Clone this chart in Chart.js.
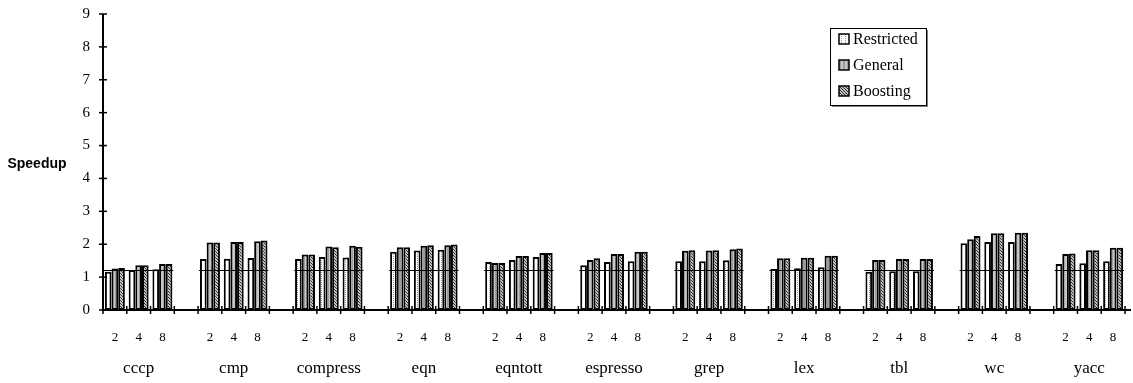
<!DOCTYPE html>
<html>
<head>
<meta charset="utf-8">
<script src="https://cdn.jsdelivr.net/npm/chart.js@4/dist/chart.umd.min.js"></script>
<style>
  html, body { margin: 0; padding: 0; background: #fff; }
  #wrap { width: 1133px; height: 383px; }
</style>
</head>
<body>
<div id="wrap"><canvas id="chart" width="1133" height="383"></canvas></div>
<script>
// speedup per benchmark, three issue widths each (2, 4, 8)
const benchmarks = ['cccp', 'cmp', 'compress', 'eqn', 'eqntott', 'espresso', 'grep', 'lex', 'tbl', 'wc', 'yacc'];
const issueWidths = ['2', '4', '8'];

const restricted = [
  1.16, 1.22, 1.24,   1.55, 1.56, 1.58,   1.55, 1.61, 1.60,   1.77, 1.81, 1.83,
  1.46, 1.52, 1.61,   1.36, 1.46, 1.48,   1.48, 1.48, 1.51,   1.25, 1.27, 1.30,
  1.16, 1.18, 1.18,   2.03, 2.07, 2.07,   1.40, 1.42, 1.48
];
const general = [
  1.26, 1.36, 1.40,   2.05, 2.07, 2.09,   1.69, 1.93, 1.95,   1.91, 1.95, 1.97,
  1.43, 1.64, 1.73,   1.52, 1.70, 1.77,   1.80, 1.81, 1.85,   1.57, 1.59, 1.65,
  1.52, 1.55, 1.55,   2.15, 2.33, 2.35,   1.70, 1.82, 1.89
];
const boosting = [
  1.28, 1.36, 1.40,   2.05, 2.07, 2.11,   1.69, 1.91, 1.92,   1.91, 1.97, 1.99,
  1.43, 1.64, 1.73,   1.57, 1.70, 1.77,   1.82, 1.82, 1.87,   1.57, 1.59, 1.65,
  1.52, 1.55, 1.55,   2.25, 2.33, 2.35,   1.72, 1.82, 1.89
];
// horizontal reference line drawn across every benchmark group
const refSpeedup = 1.21;
const yMin = 0, yMax = 9;

// --- slots: 3 per benchmark plus an empty slot between benchmarks ---
const subLabels = [], nameLabels = [], groupSlots = [];
function spread(arr) {
  const out = [];
  benchmarks.forEach((b, i) => {
    issueWidths.forEach((w, j) => out.push(arr[i * 3 + j]));
    if (i < benchmarks.length - 1) out.push(null);
  });
  return out;
}
benchmarks.forEach((b, i) => {
  groupSlots.push([subLabels.length, subLabels.length + 2]);
  issueWidths.forEach((w, j) => {
    subLabels.push(w);
    nameLabels.push(j === 1 ? b : '');
  });
  if (i < benchmarks.length - 1) { subLabels.push(''); nameLabels.push(''); }
});

// --- fill patterns ---
function makePattern(w, h, draw) {
  const c = document.createElement('canvas');
  c.width = w; c.height = h;
  const g = c.getContext('2d');
  draw(g);
  return g.createPattern(c, 'repeat');
}
const ctx = document.getElementById('chart').getContext('2d');
const patRestricted = makePattern(4, 4, g => {
  g.fillStyle = '#fff'; g.fillRect(0, 0, 4, 4);
  g.fillStyle = '#9a9a9a'; g.fillRect(1, 0, 1, 1); g.fillRect(1, 2, 1, 1);
});
const patGeneral = makePattern(4, 2, g => {
  g.fillStyle = '#9c9c9c'; g.fillRect(0, 0, 4, 2);
  g.fillStyle = '#c6c6c6'; g.fillRect(1, 0, 2, 2);
});
const patBoosting = makePattern(3, 3, g => {
  g.fillStyle = '#c0c0c0'; g.fillRect(0, 0, 3, 3);
  g.fillStyle = '#333';
  g.fillRect(0, 0, 1, 1); g.fillRect(1, 1, 1, 1); g.fillRect(2, 2, 1, 1);
});

const serif = '"Liberation Serif", "Times New Roman", serif';

const marksPlugin = {
  id: 'marks',
  afterDatasetsDraw(chart) {
    const { ctx, chartArea: a, scales: { x, y } } = chart;
    const slot = x.getPixelForValue(1) - x.getPixelForValue(0);
    ctx.save();
    ctx.strokeStyle = '#000';
    // reference line per group
    ctx.lineWidth = 1.2;
    const yr = Math.round(y.getPixelForValue(refSpeedup)) + 0.5;
    groupSlots.forEach(([s, e]) => {
      ctx.beginPath();
      ctx.moveTo(x.getPixelForValue(s) - slot / 2 + 1, yr);
      ctx.lineTo(x.getPixelForValue(e) + slot / 2 - 1, yr);
      ctx.stroke();
    });
    // axes
    ctx.lineWidth = 2;
    ctx.beginPath();
    ctx.moveTo(a.left, y.getPixelForValue(yMax));
    ctx.lineTo(a.left, a.bottom);
    ctx.lineTo(a.right + 6, a.bottom);
    ctx.stroke();
    // crossing tick marks
    ctx.lineWidth = 1.5;
    for (let v = yMin; v <= yMax; v++) {
      const py = y.getPixelForValue(v);
      ctx.beginPath(); ctx.moveTo(a.left - 4, py); ctx.lineTo(a.left + 4, py); ctx.stroke();
    }
    for (let i = 0; i <= subLabels.length; i++) {
      const px = x.getPixelForValue(0) + (i - 0.5) * slot;
      ctx.beginPath(); ctx.moveTo(px, a.bottom - 4); ctx.lineTo(px, a.bottom + 4); ctx.stroke();
    }
    ctx.restore();
  },
  afterDraw(chart) {
    const { ctx, chartArea: a } = chart;
    ctx.save();
    // y axis title, horizontal
    ctx.fillStyle = '#000';
    ctx.font = 'bold 14px "Liberation Sans", Arial, sans-serif';
    ctx.textAlign = 'center';
    ctx.textBaseline = 'middle';
    ctx.fillText('Speedup', 37, (a.top + a.bottom) / 2 + 2);
    // legend box
    const lx = 830, ly = 28, lw = 96, lh = 77;
    ctx.fillStyle = '#808080';
    ctx.fillRect(lx + 2, ly + 2, lw, lh);
    ctx.fillStyle = '#fff';
    ctx.fillRect(lx, ly, lw, lh);
    ctx.strokeStyle = '#000';
    ctx.lineWidth = 1;
    ctx.strokeRect(lx + 0.5, ly + 0.5, lw, lh);
    ctx.font = '16px ' + serif;
    ctx.textAlign = 'left';
    chart.data.datasets.forEach((ds, i) => {
      const cy = ly + 11 + i * 26;
      ctx.fillStyle = ds.backgroundColor;
      ctx.fillRect(lx + 9, cy - 5, 10, 10);
      ctx.strokeStyle = '#000';
      ctx.lineWidth = 1.5;
      ctx.strokeRect(lx + 9, cy - 5, 10, 10);
      ctx.fillStyle = '#000';
      ctx.fillText(ds.label, lx + 23, cy + 1);
    });
    ctx.restore();
  }
};

const barStyle = { borderColor: '#000', borderWidth: 2, borderSkipped: false, barPercentage: 1, categoryPercentage: 0.84 };

function fixX(h) {
  return s => { s.height = h; s.paddingLeft = 0; s.paddingRight = 0; };
}

new Chart(ctx, {
  type: 'bar',
  data: {
    labels: subLabels,
    datasets: [
      { label: 'Restricted', data: spread(restricted), backgroundColor: patRestricted, ...barStyle },
      { label: 'General', data: spread(general), backgroundColor: patGeneral, ...barStyle },
      { label: 'Boosting', data: spread(boosting), backgroundColor: patBoosting, ...barStyle }
    ]
  },
  options: {
    responsive: false,
    animation: false,
    devicePixelRatio: 1,
    layout: { padding: { top: 14, right: 8, left: 0, bottom: 0 } },
    plugins: { legend: { display: false }, tooltip: { enabled: false } },
    scales: {
      x: {
        labels: subLabels,
        weight: 0,
        grid: { display: false, drawTicks: false },
        border: { display: false },
        ticks: { autoSkip: false, maxRotation: 0, color: '#000', padding: 20, font: { family: serif, size: 13 } },
        afterFit: fixX(40)
      },
      x2: {
        type: 'category',
        position: 'bottom',
        labels: nameLabels,
        weight: 1,
        grid: { display: false, drawTicks: false },
        border: { display: false },
        ticks: { autoSkip: false, maxRotation: 0, color: '#000', padding: 8, font: { family: serif, size: 17 } },
        afterFit: fixX(33)
      },
      y: {
        min: yMin, max: yMax,
        grid: { display: false, drawTicks: false },
        border: { display: false },
        ticks: { stepSize: 1, color: '#000', padding: 13, font: { family: serif, size: 15 } },
        afterFit: s => { s.width = 103; s.paddingTop = 0; s.paddingBottom = 0; }
      }
    }
  },
  plugins: [marksPlugin]
});
</script>
</body>
</html>
